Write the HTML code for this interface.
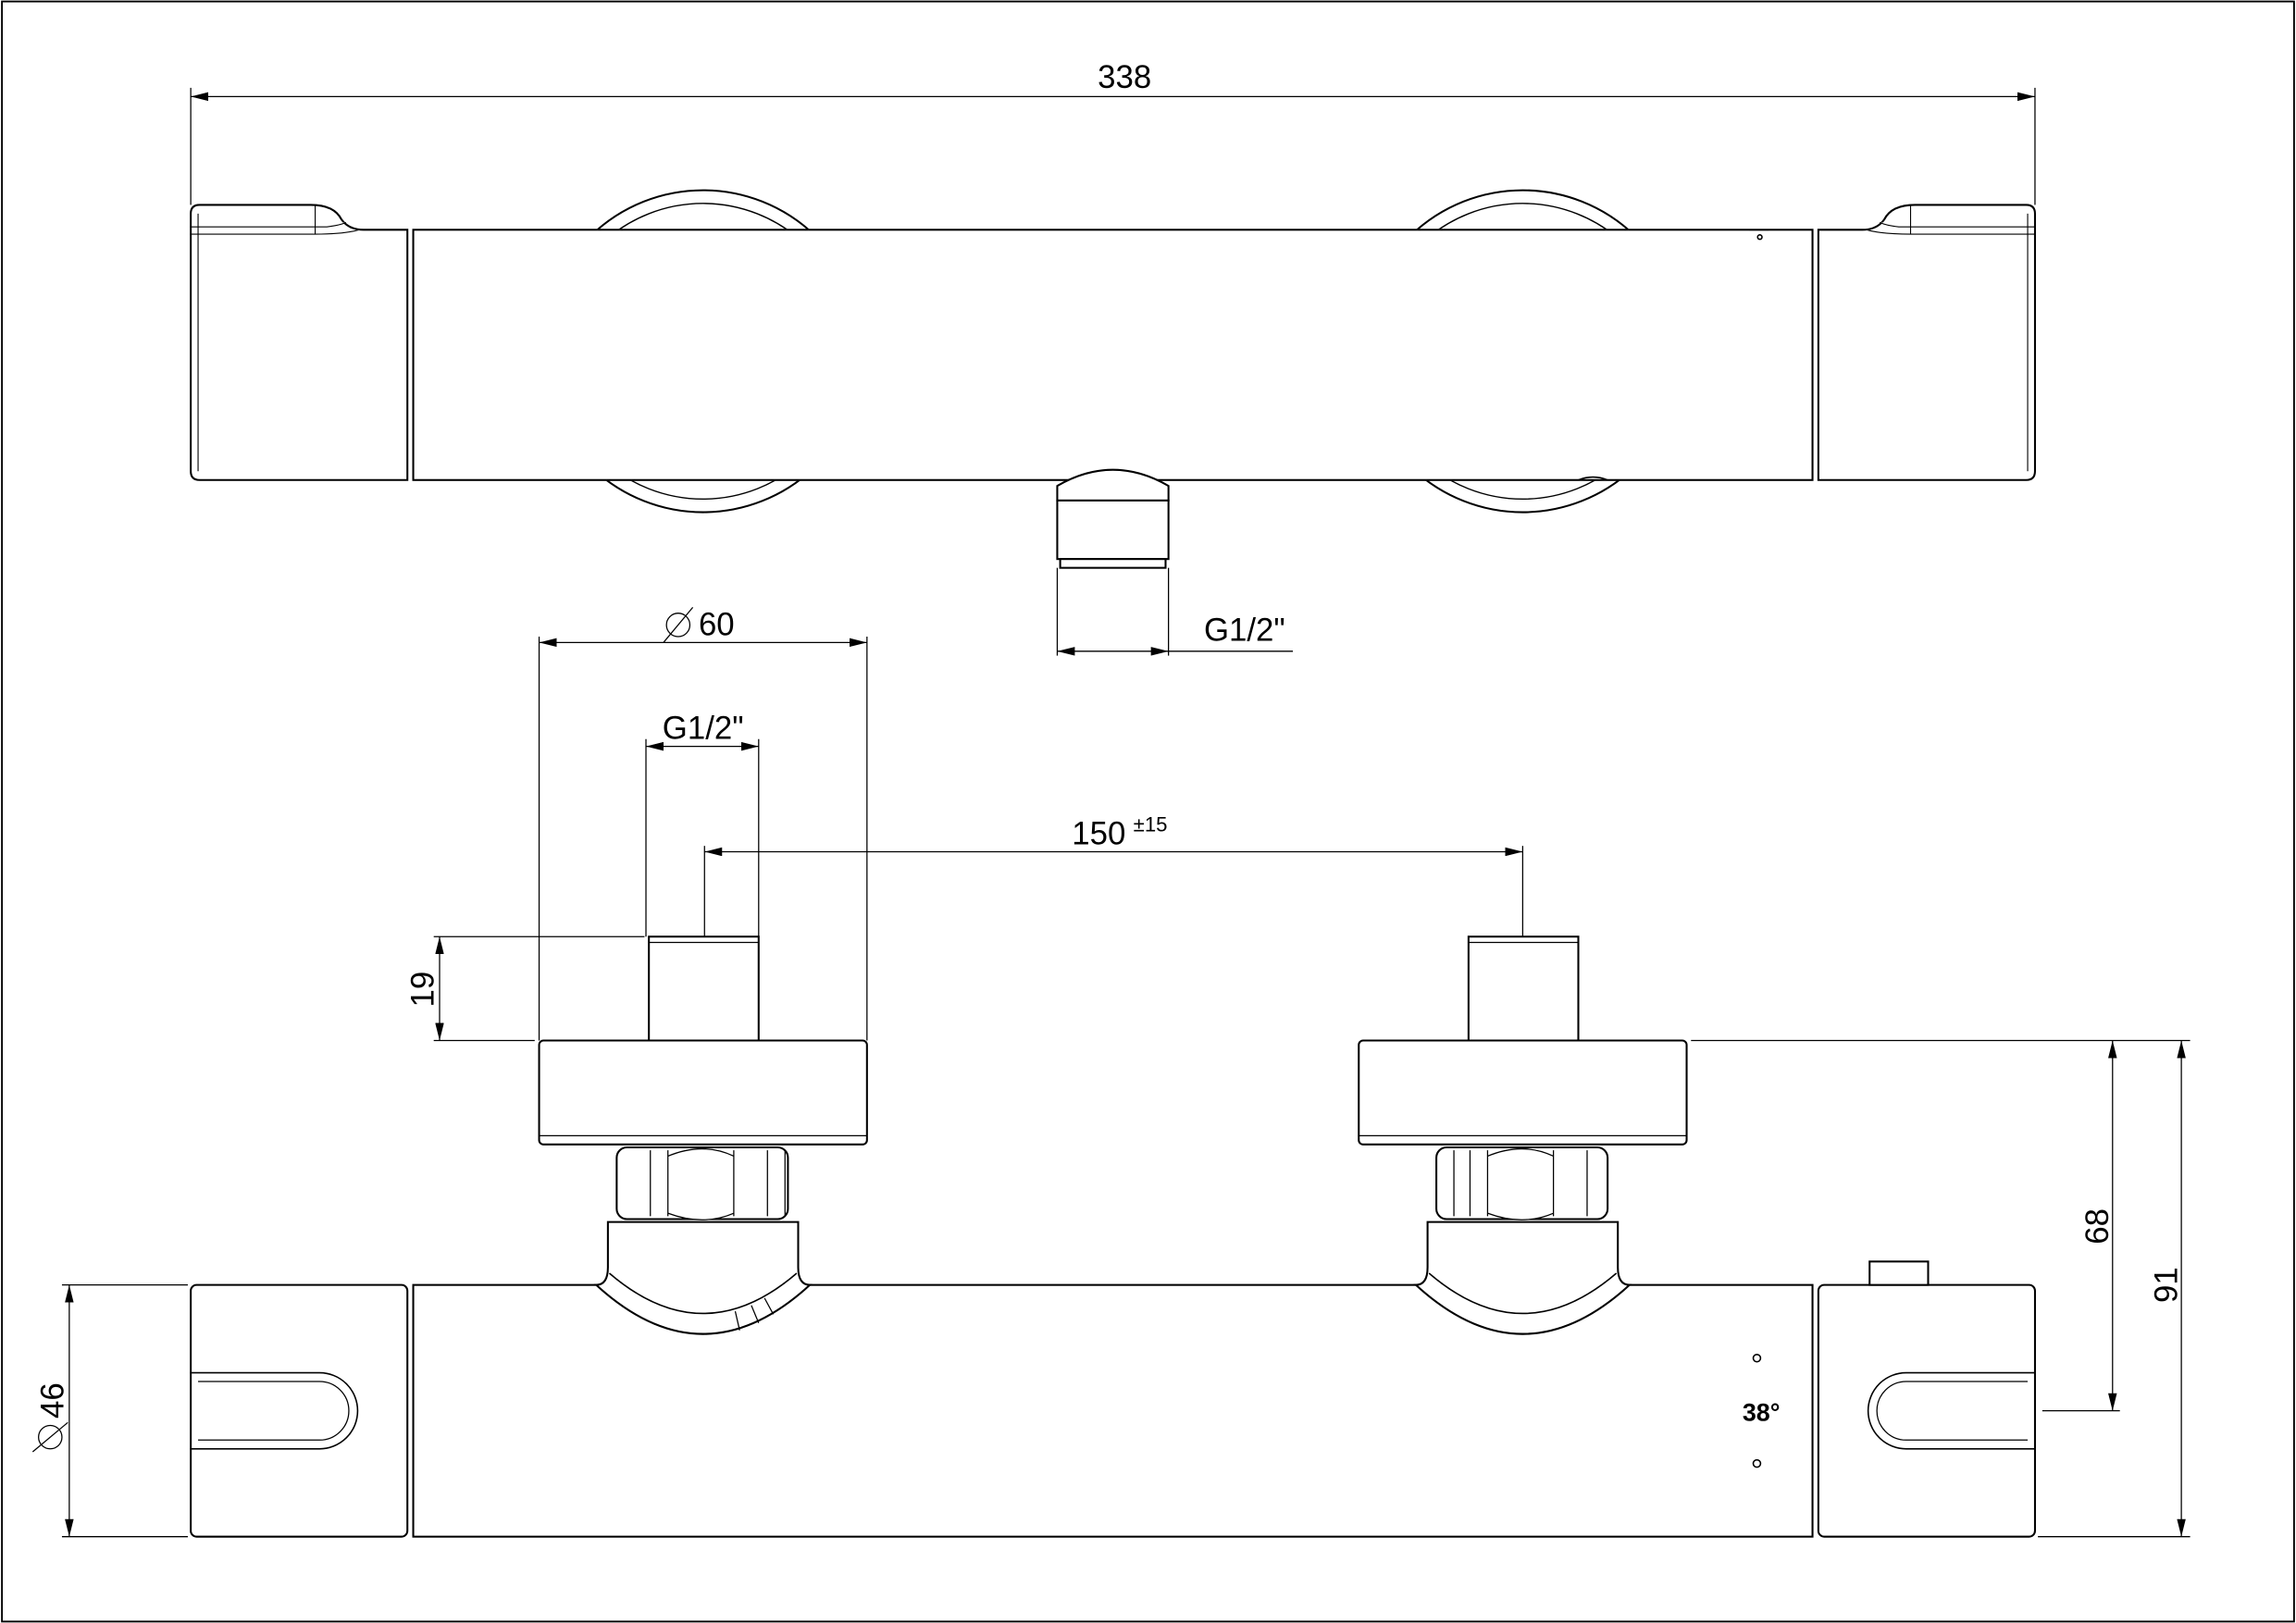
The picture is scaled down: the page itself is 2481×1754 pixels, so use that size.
<!DOCTYPE html>
<html><head><meta charset="utf-8"><style>
html,body{margin:0;padding:0;background:#fff}
svg{display:block}
text{font-family:"Liberation Sans",sans-serif;fill:#000}
</style></head><body>
<svg width="2481" height="1754" viewBox="0 0 1568 1109" xmlns="http://www.w3.org/2000/svg">
<defs>
<marker id="a" viewBox="0 0 12 6" refX="12" refY="3" markerWidth="12" markerHeight="6" orient="auto-start-reverse" markerUnits="userSpaceOnUse"><path d="M0,0 L12,3 L0,6 z" fill="#000"/></marker>
</defs>
<rect x="1" y="1" width="1566" height="1107" fill="none" stroke="#000" stroke-width="1.2"/>
<g fill="none" stroke="#000" stroke-width="0.8">
<line x1="130" y1="60" x2="130" y2="140"/><line x1="1390" y1="60" x2="1390" y2="140"/>
<line x1="130" y1="66" x2="1390" y2="66" marker-start="url(#a)" marker-end="url(#a)"/>
<line x1="722" y1="388" x2="722" y2="448"/><line x1="798" y1="388" x2="798" y2="448"/>
<line x1="722" y1="445" x2="798" y2="445" marker-start="url(#a)" marker-end="url(#a)"/>
<line x1="798" y1="445" x2="883" y2="445"/>
</g>
<g fill="#fff" stroke="#000" stroke-width="1.3">
<circle cx="480" cy="240" r="110"/><circle cx="480" cy="240" r="101" stroke-width="0.9"/>
<circle cx="1040" cy="240" r="110"/><circle cx="1040" cy="240" r="101" stroke-width="0.9"/>
<path d="M136,140 L212,140 Q228,140 233,150 Q238,157 248,157 L278,157 L278,328 L136,328 Q130,328 130,322 L130,146 Q130,140 136,140 Z"/>
<path d="M135,146 L135,322 M130,155 L223,155 Q232,154 236,152 M130,160 L215,160 Q235,160 245,157 M215,140 L215,160" stroke-width="0.7"/>
<rect x="282" y="157" width="956" height="171"/>
<path d="M1384,140 L1308,140 Q1292,140 1287,150 Q1282,157 1272,157 L1242,157 L1242,328 L1384,328 Q1390,328 1390,322 L1390,146 Q1390,140 1384,140 Z"/>
<path d="M1385,146 L1385,322 M1390,155 L1297,155 Q1288,154 1284,152 M1390,160 L1305,160 Q1285,160 1275,157 M1305,140 L1305,160" stroke-width="0.7"/>
<path d="M722,342 L722,332 Q760,310 798,332 L798,342 Z"/>
<rect x="722" y="342" width="76" height="40"/>
<rect x="724" y="382" width="72" height="6"/>
</g>
<g fill="none" stroke="#000" stroke-width="1">
<circle cx="1202" cy="162" r="1.5"/><path d="M1195,157 L1208,157"/>
<path d="M1078,328 Q1088,324 1098,328"/>
</g>
<g fill="none" stroke="#000" stroke-width="0.8">
<line x1="368" y1="435" x2="368" y2="711"/><line x1="592" y1="435" x2="592" y2="711"/>
<line x1="368" y1="439" x2="592" y2="439" marker-start="url(#a)" marker-end="url(#a)"/>
<line x1="441" y1="505" x2="441" y2="640"/><line x1="518" y1="505" x2="518" y2="640"/>
<line x1="441" y1="510" x2="518" y2="510" marker-start="url(#a)" marker-end="url(#a)"/>
<line x1="481" y1="578" x2="481" y2="640"/><line x1="1040" y1="578" x2="1040" y2="640"/>
<line x1="481" y1="582" x2="1040" y2="582" marker-start="url(#a)" marker-end="url(#a)"/>
<line x1="296" y1="640" x2="440" y2="640"/><line x1="296" y1="711" x2="365" y2="711"/>
<line x1="300" y1="640" x2="300" y2="711" marker-start="url(#a)" marker-end="url(#a)"/>
<line x1="1155" y1="711" x2="1496" y2="711"/><line x1="1395" y1="964" x2="1448" y2="964"/>
<line x1="1443" y1="711" x2="1443" y2="964" marker-start="url(#a)" marker-end="url(#a)"/>
<line x1="1392" y1="1050" x2="1496" y2="1050"/>
<line x1="1490" y1="711" x2="1490" y2="1050" marker-start="url(#a)" marker-end="url(#a)"/>
<line x1="42" y1="878" x2="128" y2="878"/><line x1="42" y1="1050" x2="128" y2="1050"/>
<line x1="47" y1="878" x2="47" y2="1050" marker-start="url(#a)" marker-end="url(#a)"/>
<circle cx="463" cy="427" r="8"/><line x1="453" y1="439" x2="473" y2="415"/>
<circle cx="34" cy="982" r="8"/><line x1="22" y1="992" x2="46" y2="972"/>
</g>
<g fill="#fff" stroke="#000" stroke-width="1.3">
<rect x="443" y="640" width="75" height="71"/><line x1="443" y1="644" x2="518" y2="644" stroke-width="0.8"/>
<rect x="368" y="711" width="224" height="71" rx="3"/><line x1="368" y1="776" x2="592" y2="776" stroke-width="0.8"/>
<rect x="421" y="784" width="117" height="49" rx="7"/>
<path d="M456,786 L456,831 M501,786 L501,831 M524,786 L524,831 M444,786 L444,831 M536,786 L536,831" stroke-width="0.8"/>
<path d="M456,790 Q480,780 501,790 M456,829 Q480,838 501,829" stroke-width="0.8"/>
<rect x="1003" y="640" width="75" height="71"/><line x1="1003" y1="644" x2="1078" y2="644" stroke-width="0.8"/>
<rect x="928" y="711" width="224" height="71" rx="3"/><line x1="928" y1="776" x2="1152" y2="776" stroke-width="0.8"/>
<rect x="981" y="784" width="117" height="49" rx="7"/>
<path d="M1016,786 L1016,831 M1061,786 L1061,831 M1004,786 L1004,831 M1084,786 L1084,831 M993,786 L993,831" stroke-width="0.8"/>
<path d="M1016,790 Q1040,780 1061,790 M1016,829 Q1040,838 1061,829" stroke-width="0.8"/>
<rect x="130" y="878" width="148" height="172" rx="4"/>
<rect x="282" y="878" width="956" height="172"/>
<rect x="1242" y="878" width="148" height="172" rx="4"/>
<rect x="1277" y="862" width="40" height="16"/>
<!-- necks -->
<path d="M415,835 L545,835 L545,866 Q545,878 553,878 Q480,945 407,878 Q415,878 415,866 Z"/>
<path d="M975,835 L1105,835 L1105,866 Q1105,878 1113,878 Q1040,945 967,878 Q975,878 975,866 Z"/>
</g>
<g fill="none" stroke="#000" stroke-width="1">
<path d="M416,870 Q480,925 544,870"/>
<path d="M976,870 Q1040,925 1104,870"/>
<path d="M502,896 L505,909 M513,892 L518,904 M522,887 L528,898" stroke-width="0.8"/>
<path d="M130,938 L218,938 A26,26 0 0 1 218,990 L130,990"/>
<path d="M135,944 L218,944 A20,20 0 0 1 218,984 L135,984" stroke-width="0.8"/>
<path d="M1390,938 L1302,938 A26,26 0 0 0 1302,990 L1390,990"/>
<path d="M1385,944 L1302,944 A20,20 0 0 0 1302,984 L1385,984" stroke-width="0.8"/>
<circle cx="1200" cy="928" r="2.5"/><circle cx="1200" cy="1000" r="2.5"/>
</g>
<g font-size="22">
<text x="768" y="60" text-anchor="middle">338</text>
<text x="850" y="438" text-anchor="middle">G1/2"</text>
<text x="477" y="434">60</text>
<text x="480" y="505" text-anchor="middle">G1/2"</text>
<text x="732" y="577">150</text>
<text x="774" y="568" font-size="14">±15</text>
<text transform="translate(296,676) rotate(-90)" text-anchor="middle">19</text>
<text transform="translate(1440,838) rotate(-90)" text-anchor="middle">68</text>
<text transform="translate(1487,878) rotate(-90)" text-anchor="middle">91</text>
<text transform="translate(43,957) rotate(-90)" text-anchor="middle">46</text>
<text x="1203" y="971" text-anchor="middle" font-size="17" font-weight="bold">38°</text>
</g>
</svg>
</body></html>
